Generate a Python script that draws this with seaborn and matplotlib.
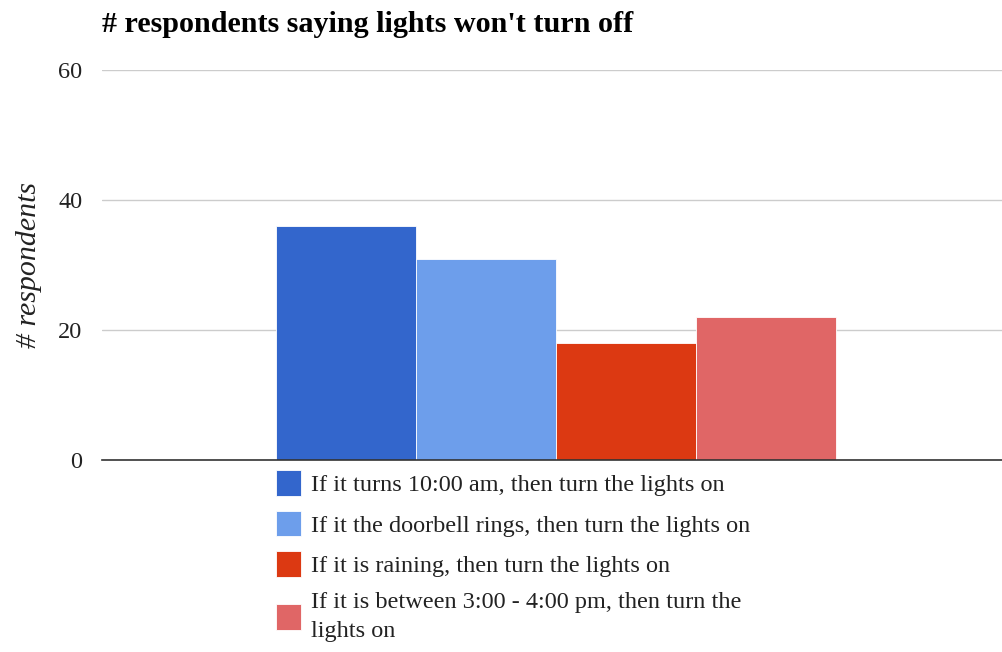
import matplotlib
matplotlib.use("Agg")
import matplotlib.pyplot as plt
import seaborn as sns
import pandas as pd

categories = [
    "If it turns 10:00 am, then turn the lights on",
    "If it the doorbell rings, then turn the lights on",
    "If it is raining, then turn the lights on",
    "If it is between 3:00 - 4:00 pm, then turn the\nlights on",
]
values = [36, 31, 18, 22]
colors = ["#3366CC", "#6D9EEB", "#DC3912", "#E06666"]
yticks = [0, 20, 40, 60]
title = "# respondents saying lights won't turn off"
ylabel = "# respondents"

sns.set_theme(style="white")
plt.rcParams["font.family"] = ["Liberation Serif", "DejaVu Serif"]

df = pd.DataFrame({"group": [""] * len(categories), "condition": categories, "value": values})

fig = plt.figure(figsize=(10.03, 6.52), dpi=100)
ax = fig.add_axes([102 / 1003, 1 - 460 / 652, 1 - 102 / 1003, (460 - 70) / 652])

sns.barplot(data=df, x="group", y="value", hue="condition", hue_order=categories,
            palette=colors, width=0.8, ax=ax, edgecolor="white", linewidth=0.6,
            saturation=1, legend=True)

ax.set_xlim(-0.6486, 1.287 - 0.6486)
ax.set_ylim(0, 60)
ax.set_yticks(yticks)
ax.set_yticklabels([str(t) for t in yticks], fontsize=17.5, color="#222222")
ax.tick_params(axis="y", length=0, pad=14)
ax.set_xticks([])
ax.set_xlabel("")
ax.yaxis.grid(True, color="#cccccc", linewidth=1)
ax.set_axisbelow(True)
for s in ["top", "right", "left"]:
    ax.spines[s].set_visible(False)
ax.spines["bottom"].set_color("#333333")
ax.spines["bottom"].set_linewidth(1.2)
ax.spines["bottom"].set_zorder(5)

ax.set_ylabel(ylabel, fontsize=21.5, style="italic", color="#222222", labelpad=12)

fig.text(102 / 1003, 1 - 24 / 652, title, fontsize=21.7, fontweight="bold",
         color="#000000", va="center", ha="left")

handles, labels = ax.get_legend_handles_labels()
ax.get_legend().remove()
leg = fig.legend(handles, labels, loc="upper left",
                 bbox_to_anchor=(276 / 1003, 1 - 470 / 652), frameon=False,
                 fontsize=17.5, handlelength=1.03, handleheight=1.25, handletextpad=0.42,
                 labelspacing=0.6, borderaxespad=0, borderpad=0)
for t in leg.get_texts():
    t.set_color("#222222")
    t.set_linespacing(1.5)

fig.savefig("out.png", dpi=100, facecolor="white")
